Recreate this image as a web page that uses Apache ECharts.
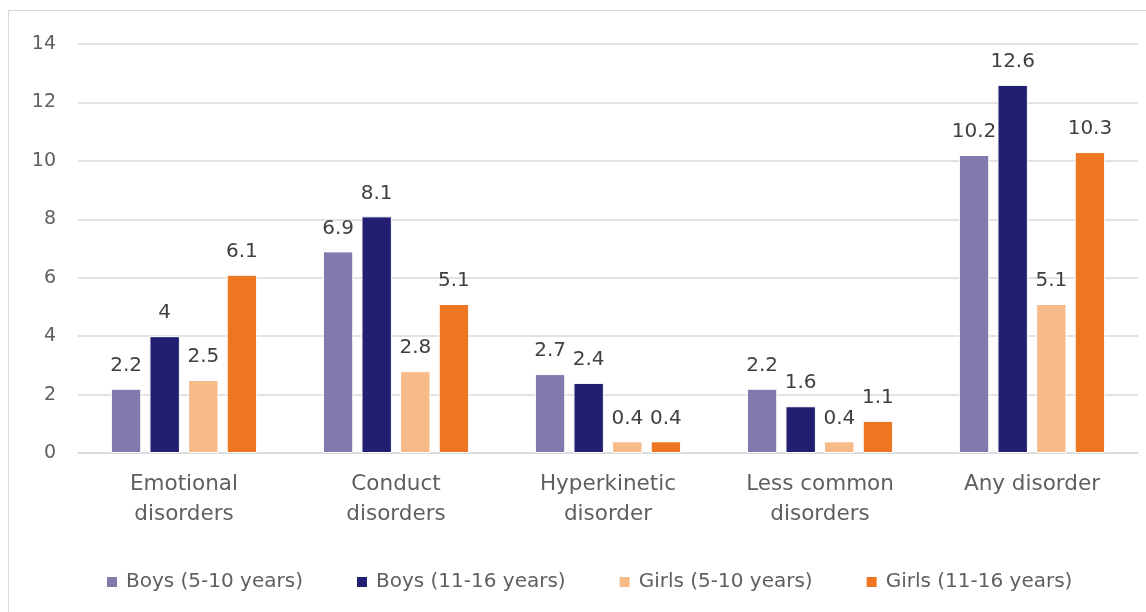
<!DOCTYPE html>
<html>
<head>
<meta charset="utf-8">
<script src="https://cdn.jsdelivr.net/npm/echarts@6/dist/echarts.min.js"></script>
<style>
  html, body { margin: 0; padding: 0; background: #fff; overflow: hidden; }
  #frame { position: absolute; left: 8px; top: 10px; width: 1200px; height: 700px; border: 1.5px solid #d9d9d9; box-sizing: border-box; }
  #chart { position: absolute; left: 0; top: 0; width: 1146px; height: 612px; }
</style>
</head>
<body>
<div id="frame"></div>
<div id="chart"></div>
<script>
const categories = ['Emotional\ndisorders', 'Conduct\ndisorders', 'Hyperkinetic\ndisorder', 'Less common\ndisorders', 'Any disorder'];
const seriesNames = ['Boys (5-10 years)', 'Boys (11-16 years)', 'Girls (5-10 years)', 'Girls (11-16 years)'];
const boys5to10 = [2.2, 6.9, 2.7, 2.2, 10.2];
const boys11to16 = [4, 8.1, 2.4, 1.6, 12.6];
const girls5to10 = [2.5, 2.8, 0.4, 0.4, 5.1];
const girls11to16 = [6.1, 5.1, 0.4, 1.1, 10.3];
const colors = ['#8379ae', '#221f73', '#f6bb89', '#ee7623'];

const values = [boys5to10, boys11to16, girls5to10, girls11to16];
const font = '"DejaVu Sans", sans-serif';

let myChart = echarts.init(document.getElementById('chart'));
myChart.setOption({
  animation: false,
  textStyle: { fontFamily: font },
  grid: { left: 78, right: 8, top: 44, bottom: 159, containLabel: false },
  legend: {
    top: 567,
    left: 100,
    itemWidth: 12,
    itemHeight: 12,
    itemGap: 52,
    icon: 'rect',
    textStyle: { fontSize: 20, color: '#5f5f5f', fontFamily: font, padding: [0, 0, 0, 3] },
    data: seriesNames
  },
  xAxis: {
    type: 'category',
    data: categories,
    axisLine: { lineStyle: { color: '#d9d9d9', width: 1.5 } },
    axisTick: { show: false },
    axisLabel: { fontSize: 21.5, color: '#5f5f5f', lineHeight: 30, margin: 16 }
  },
  yAxis: {
    type: 'value',
    min: 0,
    max: 14,
    interval: 2,
    axisLine: { show: false },
    axisTick: { show: false },
    axisLabel: { fontSize: 19, color: '#5f5f5f', margin: 22 },
    splitLine: { lineStyle: { color: '#d9d9d9', width: 1.5 } }
  },
  series: seriesNames.map((name, i) => ({
    name: name,
    type: 'bar',
    data: values[i],
    barGap: '27%',
    barCategoryGap: '31%',
    itemStyle: { color: colors[i], borderColor: '#ffffff', borderWidth: 1 },
    label: {
      show: true,
      position: 'top',
      distance: 13,
      fontSize: 20,
      color: '#404040'
    }
  }))
});
</script>
</body>
</html>
